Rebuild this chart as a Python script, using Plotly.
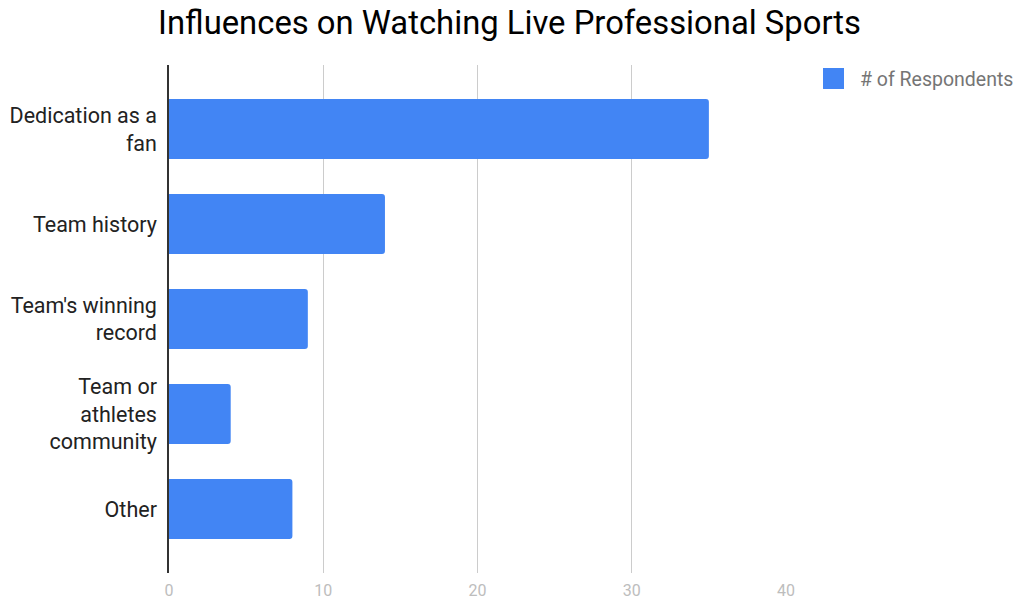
import plotly.graph_objects as go

# Survey results
categories = [
    "Dedication as a<br>fan",
    "Team history",
    "Team's winning<br>record",
    "Team or<br>athletes<br>community",
    "Other",
]
respondents = [35, 14, 9, 4, 8]
series_name = "# of Respondents"
x_ticks = [0, 10, 20, 30, 40]

BAR_COLOR = "#4285F4"
FONT = "Roboto"

fig = go.Figure()
fig.add_trace(go.Bar(
    y=categories,
    x=respondents,
    orientation="h",
    name=series_name,
    marker=dict(color=BAR_COLOR, cornerradius=3, line=dict(width=0)),
    showlegend=False,
    hoverinfo="x+y",
))

# Legend entry drawn as a swatch plus label to the right of the plot
fig.add_shape(type="rect", xref="paper", yref="paper",
              x0=1.0600, x1=1.0940, y0=0.9528, y1=0.9941,
              fillcolor=BAR_COLOR, line=dict(width=0), layer="above")
fig.add_annotation(xref="paper", yref="paper", x=1.117, y=0.9724,
                   text=series_name, showarrow=False,
                   xanchor="left", yanchor="middle",
                   font=dict(family=FONT, size=19.5, color="#757575"))

fig.update_layout(
    width=1019, height=603,
    margin=dict(l=169, r=233, t=65, b=30, autoexpand=False),
    paper_bgcolor="white", plot_bgcolor="white",
    font=dict(family=FONT),
    bargap=0.368,
    title=dict(text="Influences on Watching Live Professional Sports",
               x=0.5, xref="container", xanchor="center",
               y=0.963, yref="container", yanchor="middle",
               font=dict(family=FONT, size=32.8, color="#000000")),
    xaxis=dict(range=[0, 40], tickvals=x_ticks,
               showgrid=True, gridcolor="#cccccc", gridwidth=1,
               zeroline=False, showline=False,
               tickfont=dict(family=FONT, size=16, color="#bdbdbd"),
               ticks="", ticklabelstandoff=6),
    yaxis=dict(categoryorder="array", categoryarray=categories,
               range=[4.674, -0.674],
               showgrid=False, zeroline=False,
               showline=True, linecolor="#333333", linewidth=1.5,
               ticks="", ticklabelstandoff=6,
               tickfont=dict(family=FONT, size=21.5, color="#222222")),
)

fig.write_html("out.html")
